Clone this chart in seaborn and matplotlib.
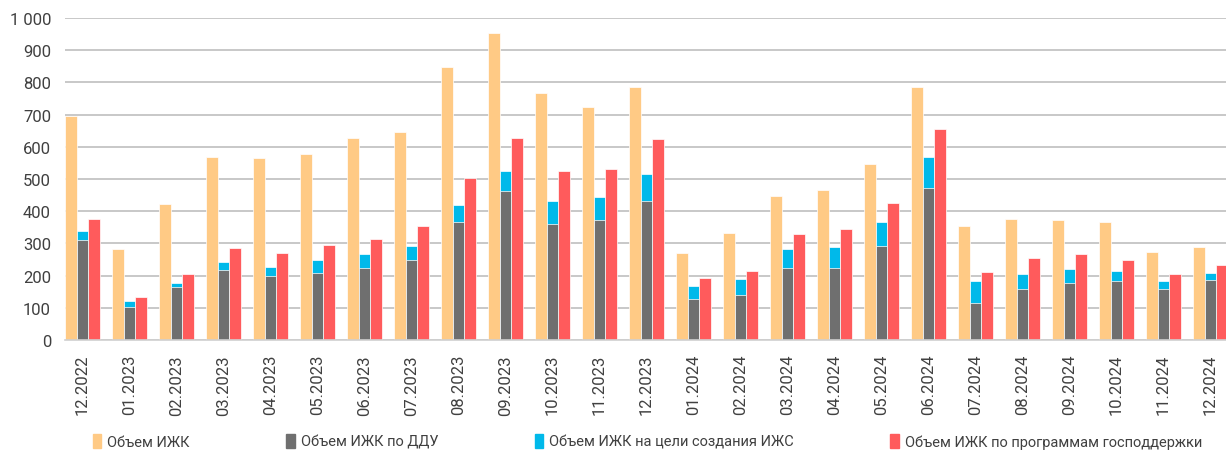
import matplotlib
matplotlib.use("Agg")
import matplotlib.pyplot as plt
import matplotlib.patches as mpatches
import seaborn as sns
import pandas as pd
from matplotlib.ticker import FuncFormatter

months = ["12.2022", "01.2023", "02.2023", "03.2023", "04.2023", "05.2023", "06.2023",
          "07.2023", "08.2023", "09.2023", "10.2023", "11.2023", "12.2023", "01.2024",
          "02.2024", "03.2024", "04.2024", "05.2024", "06.2024", "07.2024", "08.2024",
          "09.2024", "10.2024", "11.2024", "12.2024"]

izhk = [697, 282, 421, 568, 565, 579, 626, 646, 848, 954, 768, 725, 785, 271,
        332, 446, 465, 546, 787, 355, 375, 373, 366, 273, 290]
ddu = [312, 104, 164, 218, 200, 209, 223, 247, 367, 464, 359, 374, 433, 127,
       139, 223, 223, 293, 473, 116, 159, 178, 184, 159, 185]
izhs = [25, 17, 13, 23, 27, 39, 43, 46, 52, 60, 74, 69, 81, 41,
        50, 60, 65, 73, 95, 66, 47, 42, 31, 25, 23]
gos = [375, 135, 204, 286, 269, 295, 314, 353, 502, 627, 525, 532, 624, 193,
       215, 330, 344, 424, 656, 210, 254, 268, 249, 204, 233]

labels = ["Объем ИЖК", "Объем ИЖК по ДДУ", "Объем ИЖК на цели создания ИЖС",
          "Объем ИЖК по программам господдержки"]
c_orange, c_gray, c_cyan, c_red = "#FFCA85", "#6F6F6F", "#00B9EA", "#FF5B5C"

stack_total = [a + b for a, b in zip(ddu, izhs)]
df = pd.DataFrame({
    "month": months * 3,
    "series": ["a"] * len(months) + ["b"] * len(months) + ["c"] * len(months),
    "value": izhk + stack_total + gos,
})

sns.set_style("white")
plt.rcParams["font.family"] = ["Roboto", "DejaVu Sans"]

fig = plt.figure(figsize=(12.26, 4.52), dpi=100)
ax = fig.add_axes([0.053, 0.2456, 0.947, 0.7124])

sns.barplot(data=df, x="month", y="value", hue="series", hue_order=["a", "b", "c"],
            palette=[c_orange, c_cyan, c_red], saturation=1, width=0.75, gap=0, ax=ax,
            legend=False, edgecolor="#FFFFFF", linewidth=0.5, errorbar=None)

# overlay ДДУ part at bottom of the stacked bar
for patch, v in zip(ax.containers[1].patches, ddu):
    ax.bar(patch.get_x(), v, width=patch.get_width(), align="edge", color=c_gray,
           edgecolor="#FFFFFF", linewidth=0.5, zorder=patch.get_zorder() + 0.1)

ax.set_ylim(0, 1000)
ax.set_xlim(-0.375, 24.33)
ax.set_yticks(range(0, 1001, 100))
ax.yaxis.set_major_formatter(FuncFormatter(lambda v, p: f"{int(v):,}".replace(",", " ")))
ax.grid(axis="y", color="#BFBFBF", linewidth=1.2)
ax.set_axisbelow(True)
for s in ["top", "right", "left"]:
    ax.spines[s].set_visible(False)
ax.spines["bottom"].set_color("#D0D0D0")
ax.spines["bottom"].set_linewidth(1.2)
ax.tick_params(axis="y", length=0, labelsize=12, labelcolor="#404040", pad=10)
ax.tick_params(axis="x", length=0, labelsize=12, labelcolor="#404040", pad=10)
ax.set_xticks(range(len(months)))
ax.set_xticklabels(months, rotation=90)
ax.set_xlabel("")
ax.set_ylabel("")

handles = [mpatches.Patch(color=c) for c in [c_orange, c_gray, c_cyan, c_red]]
fig.legend(handles, labels, loc="center", bbox_to_anchor=(0.528, 0.022), ncol=4,
           frameon=False, fontsize=10.5, handlelength=0.6, handleheight=1.1,
           handletextpad=0.4, columnspacing=6.6, labelcolor="#404040")

fig.savefig("out.png", dpi=100)
